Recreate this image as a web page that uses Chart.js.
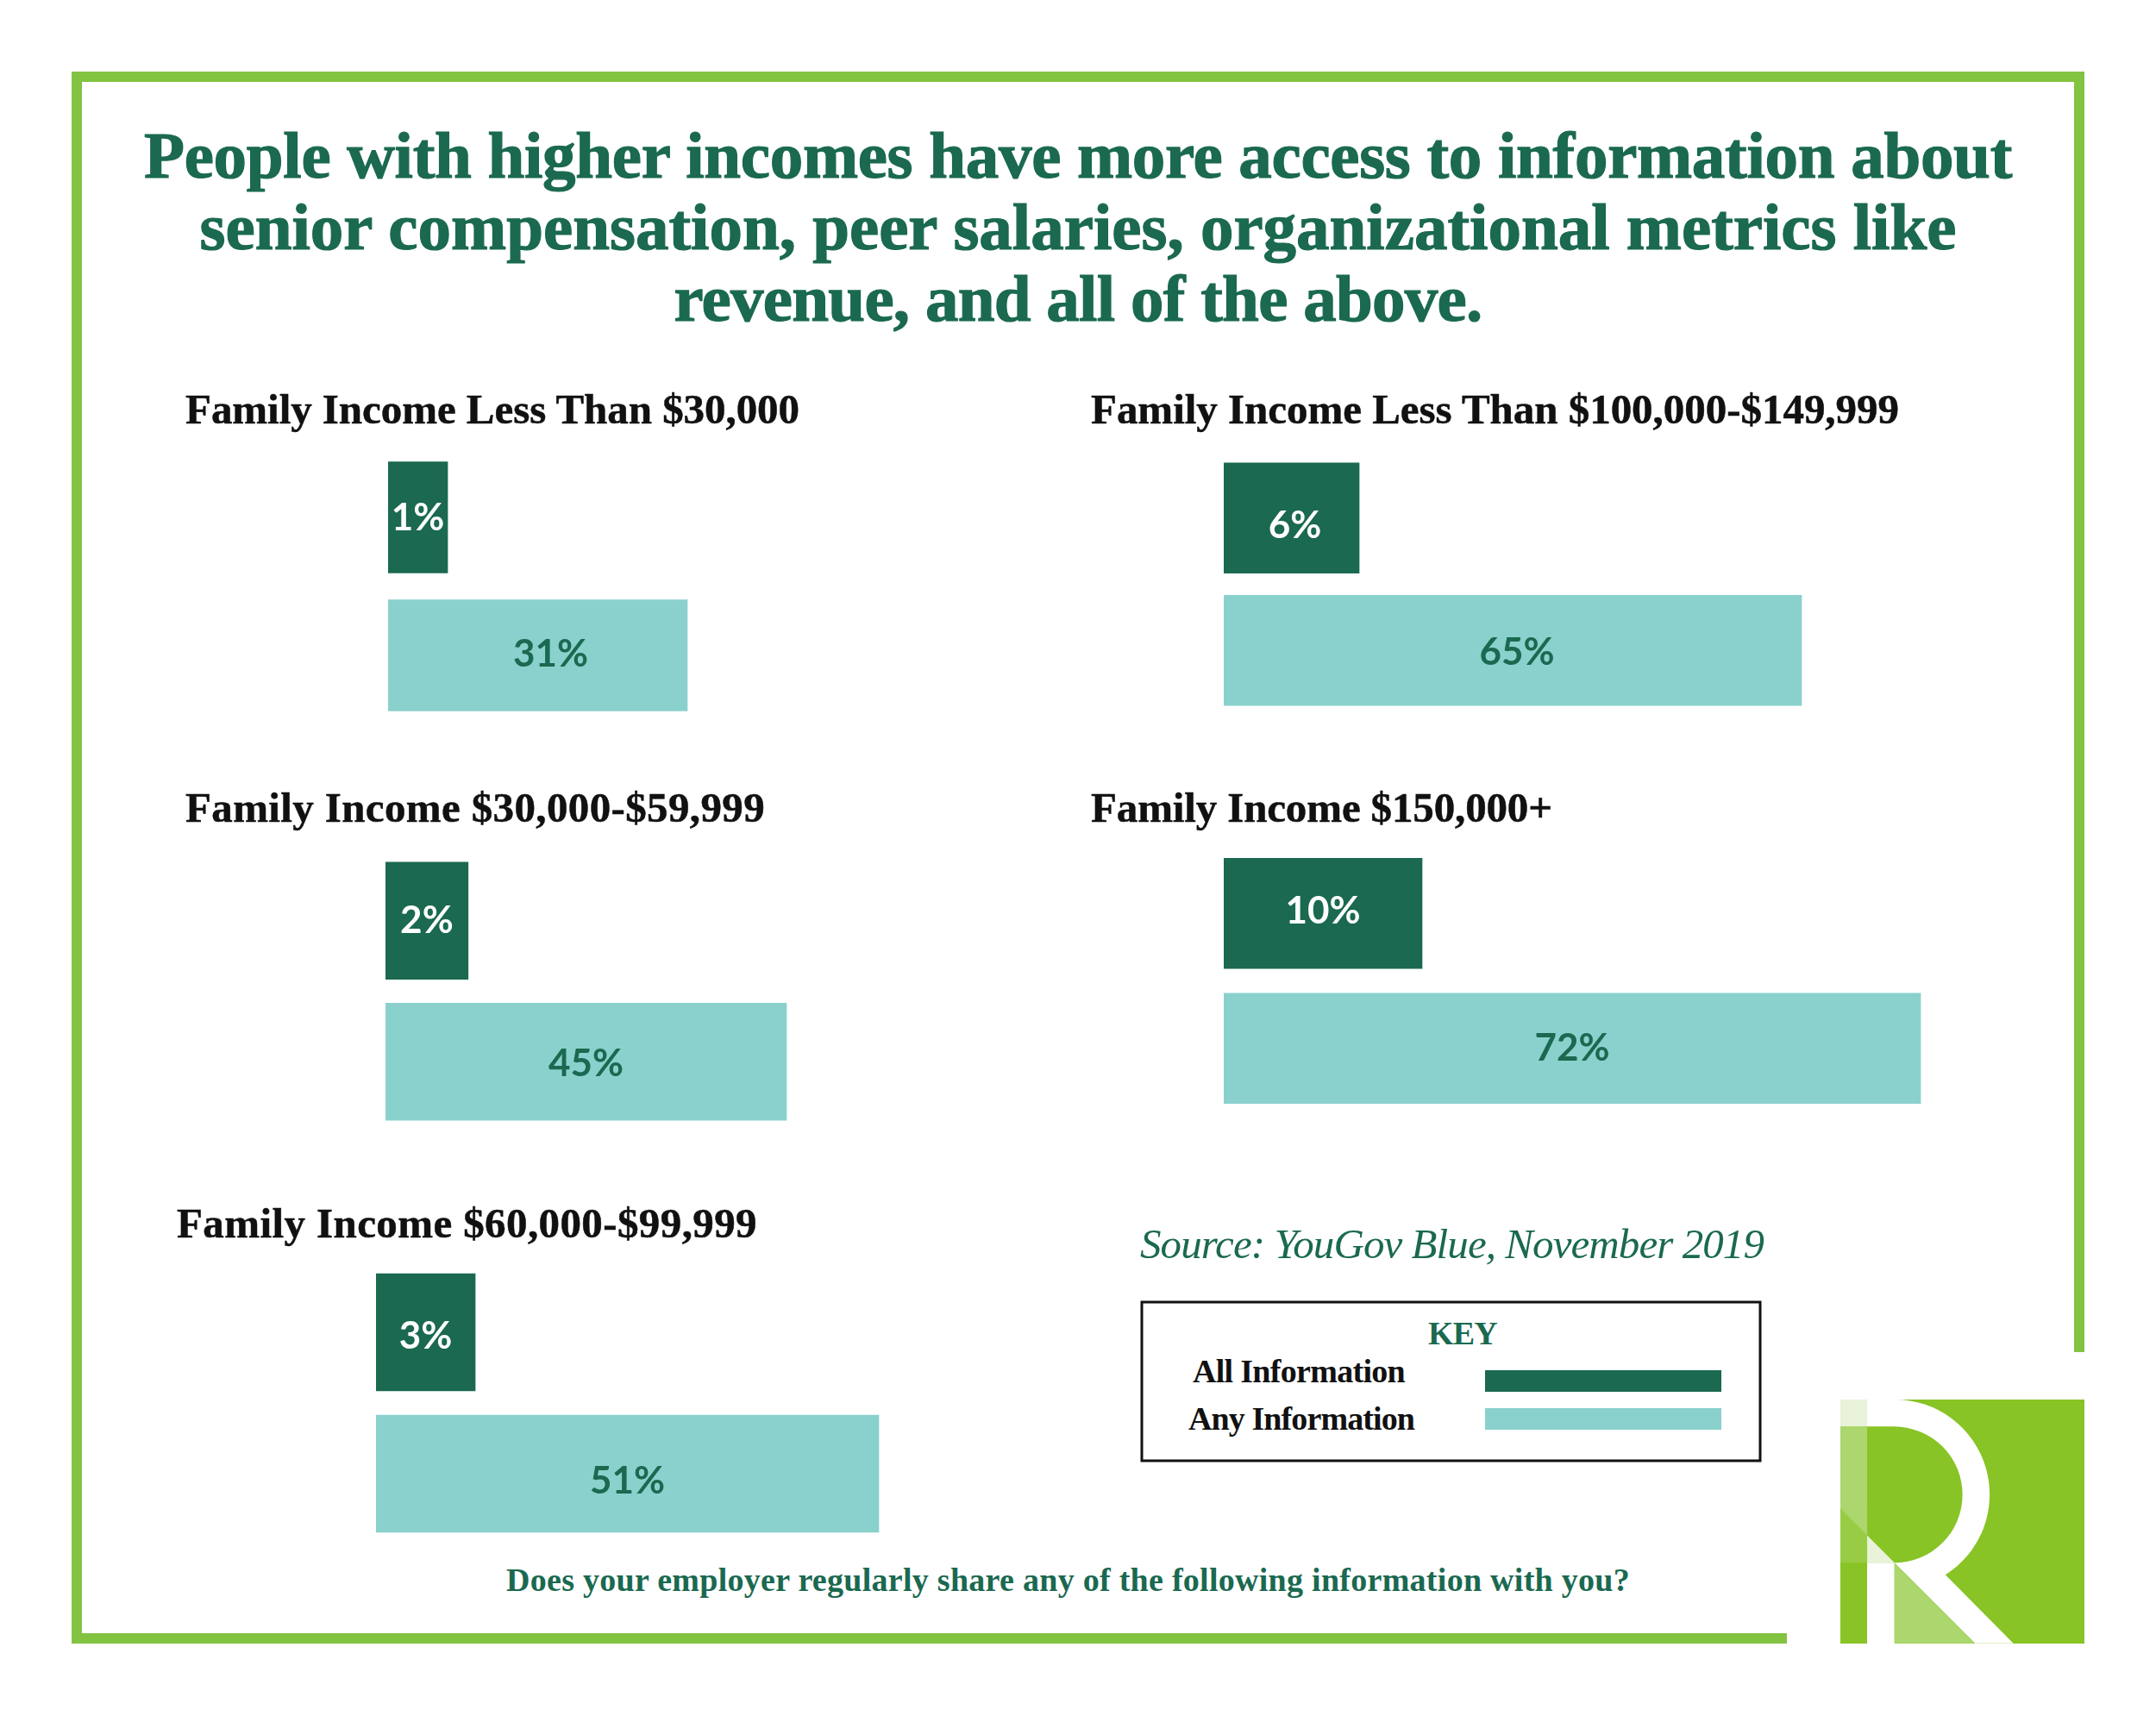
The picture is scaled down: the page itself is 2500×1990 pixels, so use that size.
<!DOCTYPE html>
<html>
<head>
<meta charset="utf-8">
<title>Access to information by family income</title>
<script src="https://cdn.jsdelivr.net/npm/chart.js@4.4.0/dist/chart.umd.min.js"></script>
<style>
html,body{margin:0;padding:0;background:#fff;width:2500px;height:1990px;overflow:hidden}
canvas,svg,.t{position:absolute}
.t{white-space:nowrap;line-height:1;font-family:'Liberation Serif',serif;font-weight:700;color:#1a6950}
</style>
</head>
<body>
<svg width="2500" height="1990" style="left:0;top:0">
  <path d="M2072 1900H89V89H2411V1568" fill="none" stroke="#82c341" stroke-width="12"/>
  <rect x="1324" y="1510" width="717" height="184" fill="none" stroke="#111" stroke-width="3"/>
  <rect x="1722" y="1589" width="274" height="25" fill="#1a6950"/>
  <rect x="1722" y="1633" width="274" height="25" fill="#8ad1cd"/>
</svg>
<!-- logo, coords taken from the zoomed crop -->
<svg width="283" height="283" viewBox="402 373 848 848" style="left:2134px;top:1623px">
  <rect x="402" y="373" width="848" height="848" fill="#88c425"/>
  <rect x="402" y="373" width="93" height="94" fill="#e8f3da"/>
  <polygon points="402,467 495,467 495,845 402,752" fill="#acd66e"/>
  <polygon points="402,752 495,845 495,940 402,940" fill="#98cc44"/>
  <path d="M495 373H590A330 330 0 0 1 767 982L1003 1220H870L590 940A236.5 236.5 0 0 0 590 467H495Z" fill="#fff"/>
  <rect x="495" y="940" width="95" height="281" fill="#fff"/>
  <polygon points="495,845 590,940 495,940" fill="#e8f3da"/>
  <polygon points="590,940 870,1220 590,1220" fill="#acd66e"/>
</svg>
<script>
const titleLines = [
  'People with higher incomes have more access to information about',
  'senior compensation, peer salaries, organizational metrics like',
  'revenue, and all of the above.'
];
const incomeGroups = [
  'Family Income Less Than $30,000',
  'Family Income $30,000-$59,999',
  'Family Income $60,000-$99,999',
  'Family Income Less Than $100,000-$149,999',
  'Family Income $150,000+'
];
const seriesNames = ['All Information', 'Any Information'];
const allInfo = [1, 2, 3, 6, 10];
const anyInfo = [31, 45, 51, 65, 72];

// the source bars are not drawn to one scale, every panel gets its own axis range
const axisMin = [-6.45, -9.16, -8.8, -12.06, -14.67];
const axisMax = [63.7, 66.55, 57.87, 85.7, 76.5];

const DARK = '#1a6950', LIGHT = '#8ad1cd';

// canvas box of each panel, heading x / baseline / width, label nudges
const panels = [
  { x: 450, y: 520, w: 650, h: 320, bar: 129, hx: 215, hb: 491, hw: 712, dx: [0, 15], dy: [1, -1] },
  { x: 447, y: 986, w: 650, h: 327, bar: 136, hx: 215, hb: 953, hw: 672, dx: [0, 0], dy: [0, 3] },
  { x: 436, y: 1463, w: 650, h: 328, bar: 136, hx: 205, hb: 1435, hw: 673, dx: [0, 0], dy: [5, 9] },
  { x: 1419, y: 524, w: 850, h: 307, bar: 128, hx: 1265, hb: 491, hw: 937, dx: [4, 5], dy: [9, 3] },
  { x: 1419, y: 981, w: 850, h: 313, bar: 128, hx: 1265, hb: 953, hw: 535, dx: [0, 0], dy: [-2, 0] }
];

function put(text, x, base, size, target, opts) {
  opts = opts || {};
  const d = document.createElement('div');
  d.className = 't';
  d.textContent = text;
  d.style.fontSize = size + 'px';
  d.style.top = (base - 0.8375 * size) + 'px';
  if (opts.italic) { d.style.fontStyle = 'italic'; d.style.fontWeight = '400'; }
  if (opts.color) d.style.color = opts.color;
  if (opts.heavy) d.style.webkitTextStroke = opts.heavy + 'px currentColor';
  document.body.appendChild(d);
  // squeeze or stretch to the width measured on the reference
  if (target) {
    const w = d.getBoundingClientRect().width;
    d.style.letterSpacing = ((target - w) / text.length) + 'px';
  }
  const w2 = d.getBoundingClientRect().width;
  d.style.left = (opts.center ? x - w2 / 2 : x) + 'px';
}

put(titleLines[0], 1250, 206, 77, 2166, { center: true, heavy: 1.2 });
put(titleLines[1], 1250, 289, 77, 2037, { center: true, heavy: 1.2 });
put(titleLines[2], 1250, 372, 77, 937, { center: true, heavy: 1.2 });
put('Source: YouGov Blue, November 2019', 1322, 1459, 49, 723, { italic: true });
put('KEY', 1696, 1559, 38, 80, { center: true });
put(seriesNames[0], 1383, 1603, 38, 246, { color: '#111' });
put(seriesNames[1], 1378, 1658, 38, 262, { color: '#111' });
put('Does your employer regularly share any of the following information with you?', 587, 1845, 38, 1303);

const barLabels = {
  id: 'barLabels',
  afterDatasetsDraw(chart) {
    const { ctx } = chart;
    const o = chart.options.plugins.barLabels;
    chart.getDatasetMeta(0).data.forEach(function(el, i) {
      ctx.save();
      ctx.font = '700 44px Lato';
      ctx.textAlign = 'center';
      ctx.textBaseline = 'middle';
      ctx.fillStyle = i === 0 ? '#fff' : DARK;
      ctx.fillText(chart.data.datasets[0].data[i] + '%', (el.x + el.base) / 2 + o.dx[i], el.y + o.dy[i]);
      ctx.restore();
    });
  }
};

panels.forEach(function(p, i) {
  put(incomeGroups[i], p.hx, p.hb, 49, p.hw, { color: '#111', heavy: 0.5 });
  const cv = document.createElement('canvas');
  cv.style.left = p.x + 'px';
  cv.style.top = p.y + 'px';
  cv.width = p.w;
  cv.height = p.h;
  document.body.appendChild(cv);
  new Chart(cv, {
    type: 'bar',
    data: {
      labels: seriesNames,
      datasets: [{
        data: [allInfo[i], anyInfo[i]],
        base: axisMin[i],
        backgroundColor: [DARK, LIGHT],
        barThickness: p.bar,
        borderWidth: 0
      }]
    },
    options: {
      indexAxis: 'y',
      responsive: false,
      animation: false,
      devicePixelRatio: 1,
      layout: { padding: 0 },
      plugins: { legend: { display: false }, tooltip: { enabled: false }, barLabels: { dx: p.dx, dy: p.dy } },
      scales: {
        x: { display: false, min: axisMin[i], max: axisMax[i] },
        y: { display: false }
      }
    },
    plugins: [barLabels]
  });
});
</script>
</body>
</html>
